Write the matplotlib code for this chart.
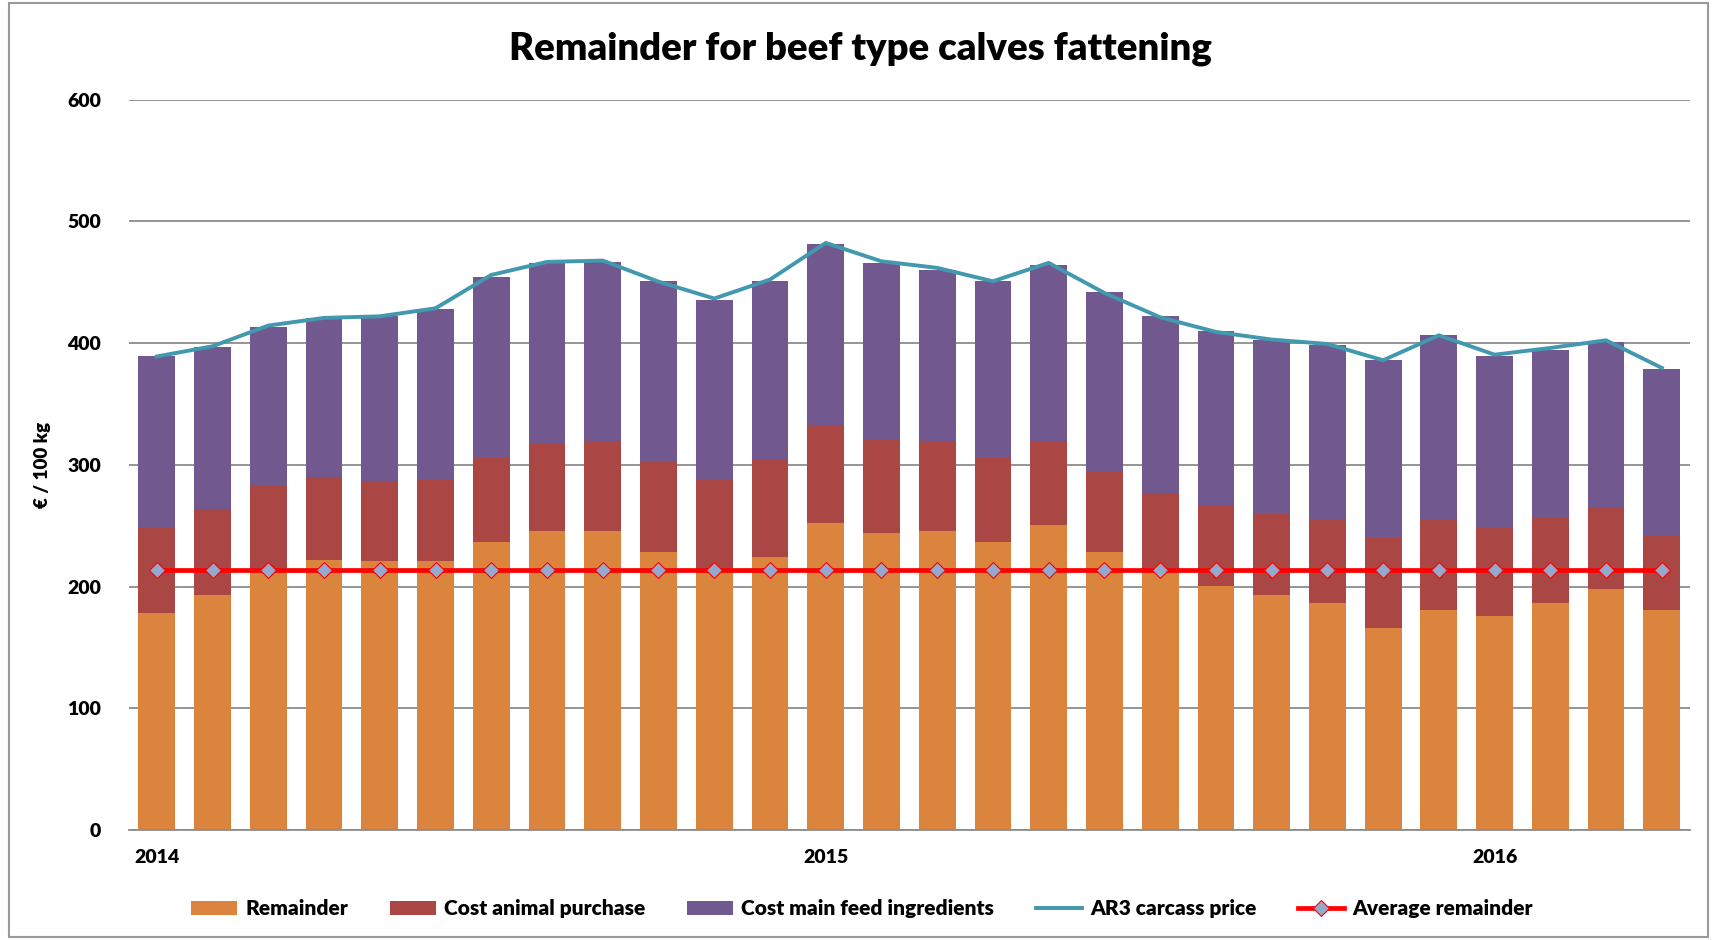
import matplotlib
matplotlib.use("Agg")
import matplotlib.pyplot as plt
from matplotlib.patches import Rectangle
import numpy as np

plt.rcParams['font.family'] = ['Lato', 'DejaVu Sans']

# ---- data ----
remainder = [178.5, 193, 212, 222, 221.3, 221.3, 236.9, 245.7, 245.7, 228.7, 213, 224.3, 252.5, 244.3,
             245.7, 236.6, 250.9, 228.7, 214, 200.7, 193.1, 186.2, 166, 180.4, 176.1, 186.2, 198.3, 180.4]
top_red = [249, 263.5, 282.4, 290, 286.8, 288, 305.7, 318, 319.3, 302, 288.7, 303.7, 332.8, 321.3,
           319.3, 305.7, 319.3, 294.7, 276.9, 266.7, 259.9, 254.4, 239.6, 255.5, 248.6, 256.4, 264.3, 242.1]
top_total = [389.7, 396.6, 413.3, 420.7, 422, 427.8, 454.6, 465.9, 466.7, 450.8, 435.7, 451.3, 481.5, 465.9,
             460.4, 451.3, 464.5, 442, 422, 409.7, 402.3, 398.8, 386.4, 406.4, 389.7, 394.1, 401, 378.8]
cost_animal = [round(t - r, 1) for t, r in zip(top_red, remainder)]
cost_feed = [round(t - r, 1) for t, r in zip(top_total, top_red)]
ar3_price = [389, 397.4, 414.4, 420.7, 422, 428.6, 456, 466.7, 467.8, 450.5, 436.6, 452.2, 482.3, 467.2,
             461.8, 450.8, 465.9, 441.2, 421.2, 409.2, 402.9, 399.3, 385.9, 406.4, 390.5, 396, 402.3, 379.6]
average_remainder = 214
tick_labels = {0: "2014", 12: "2015", 24: "2016"}
title = "Remainder for beef type calves fattening"

c_orange = '#DB843D'
c_red = '#AA4643'
c_purple = '#71588F'
c_teal = '#4198AF'

fig = plt.figure(figsize=(17.17, 9.40), dpi=100)
fig.patches.append(Rectangle((0.005, 0.003), 0.99, 0.994, transform=fig.transFigure,
                             fill=False, edgecolor='#9A9A9A', linewidth=1.5))
ax = fig.add_axes([0.0751, 0.117, 0.909, 0.777])

x = np.arange(len(remainder))
w = 0.66
b1 = ax.bar(x, remainder, w, color=c_orange, label='Remainder', zorder=2)
b2 = ax.bar(x, cost_animal, w, bottom=remainder, color=c_red, label='Cost animal purchase', zorder=2)
b3 = ax.bar(x, cost_feed, w, bottom=top_red, color=c_purple, label='Cost main feed ingredients', zorder=2)
l1, = ax.plot(x, ar3_price, color=c_teal, lw=2.8, label='AR3 carcass price', zorder=3)
l2, = ax.plot(x, [average_remainder] * len(x), color='#FF0000', lw=3.4, marker='D', markersize=8.5,
              markerfacecolor='#95A9CF', markeredgecolor='#FF0000', markeredgewidth=0.8,
              label='Average remainder', zorder=4)

ax.set_xlim(-0.5, len(x) - 0.5)
ax.set_ylim(0, 600)
ax.set_yticks(range(0, 601, 100))
ax.yaxis.grid(True, color='#8C8C8C', linewidth=1.3, zorder=0)
ax.set_axisbelow(True)
for s in ['top', 'right', 'left']:
    ax.spines[s].set_visible(False)
ax.spines['bottom'].set_color('#8C8C8C')
ax.spines['bottom'].set_linewidth(1.3)
ax.tick_params(axis='y', length=0, pad=20, labelsize=14)
ax.tick_params(axis='x', length=0, pad=14, labelsize=14)
for t in ax.get_yticklabels():
    t.set_fontweight('heavy')
ax.set_xticks(list(tick_labels.keys()))
ax.set_xticklabels(list(tick_labels.values()), fontweight='heavy')

ax.set_ylabel('€ / 100 kg', fontsize=13.5, fontweight='heavy', labelpad=12)
fig.text(0.501, 0.948, title, ha='center', va='center', fontsize=27.5, fontweight='heavy')

fig.legend(handles=[b1, b2, b3, l1, l2], loc='center', bbox_to_anchor=(0.502, 0.033), ncol=5,
           frameon=False, prop={'weight': 'heavy', 'size': 15}, handlelength=2.2, columnspacing=2.0,
           handletextpad=0.4)

fig.savefig('out.png', dpi=100)
